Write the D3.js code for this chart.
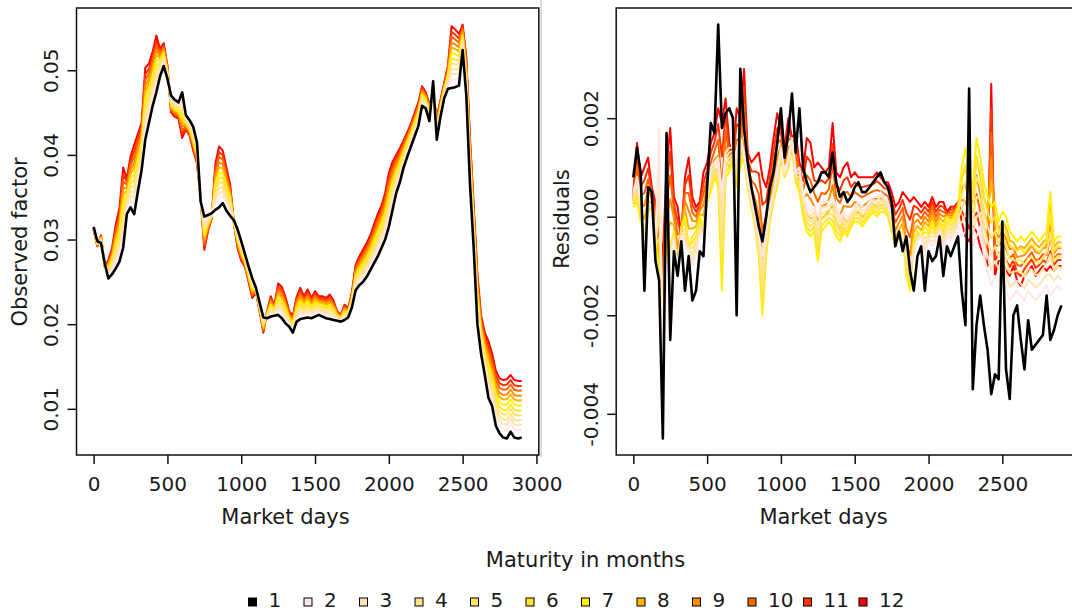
<!DOCTYPE html>
<html>
<head>
<meta charset="utf-8">
<script src="https://cdn.jsdelivr.net/npm/d3@7"></script>
<style>
  body { margin: 0; background: #fff; }
  svg { display: block; font-family: "DejaVu Sans", sans-serif; }
</style>
</head>
<body>
<svg id="chart"></svg>
<script>
// market days are sampled every 25 days, 0 .. 2900
const dayStep = 25;

const maturities = [1, 2, 3, 4, 5, 6, 7, 8, 9, 10, 11, 12];
const maturityColors = ["#000000", "#fde8e8", "#ffe2b0", "#ffe48c", "#ffe566", "#ffe430",
  "#fff000", "#ffb300", "#ff8c00", "#ff6200", "#ff3300", "#ff0000"];

// observed factor, maturity 1 (black, lowest line)
const factorM1 = [
  0.0315, 0.0298, 0.0296, 0.0272, 0.0254, 0.0259, 0.0266, 0.0274, 0.0290, 0.0330,
  0.0338, 0.0330, 0.0357, 0.0382, 0.0418, 0.0438, 0.0458, 0.0474, 0.0493, 0.0505,
  0.0490, 0.0470, 0.0465, 0.0462, 0.0474, 0.0447, 0.0441, 0.0433, 0.0415, 0.0345,
  0.0327, 0.0329, 0.0331, 0.0335, 0.0338, 0.0343, 0.0334, 0.0328, 0.0323, 0.0312,
  0.0298, 0.0283, 0.0268, 0.0254, 0.0243, 0.0225, 0.0208, 0.0207, 0.0209, 0.0210,
  0.0211, 0.0207, 0.0201, 0.0197, 0.0190, 0.0203, 0.0206, 0.0207, 0.0208, 0.0207,
  0.0209, 0.0211, 0.0209, 0.0207, 0.0206, 0.0205, 0.0204, 0.0203, 0.0205, 0.0208,
  0.0220, 0.0240, 0.0246, 0.0250, 0.0256, 0.0264, 0.0272, 0.0280, 0.0290, 0.0300,
  0.0315, 0.0335, 0.0355, 0.0368, 0.0385, 0.0398, 0.0410, 0.0422, 0.0434, 0.0458,
  0.0455, 0.0440, 0.0487, 0.0418, 0.0445, 0.0467, 0.0478, 0.0479, 0.0480, 0.0482,
  0.0524, 0.0470, 0.0365, 0.0290, 0.0200, 0.0165, 0.0140, 0.0113, 0.0103, 0.0080,
  0.0071, 0.0066, 0.0065, 0.0073, 0.0066, 0.0065, 0.0066
];
// observed factor, maturity 12 (red, top of the band)
const factorM12 = [
  0.0312, 0.0292, 0.0305, 0.0268, 0.0276, 0.0290, 0.0318, 0.0337, 0.0385, 0.0372,
  0.0398, 0.0412, 0.0425, 0.0438, 0.0503, 0.0508, 0.0522, 0.0541, 0.0525, 0.0532,
  0.0505, 0.0450, 0.0445, 0.0443, 0.0420, 0.0430, 0.0423, 0.0405, 0.0390, 0.0350,
  0.0288, 0.0310, 0.0325, 0.0390, 0.0410, 0.0405, 0.0385, 0.0365, 0.0320, 0.0290,
  0.0275, 0.0268, 0.0250, 0.0231, 0.0238, 0.0215, 0.0190, 0.0215, 0.0233, 0.0222,
  0.0248, 0.0244, 0.0232, 0.0215, 0.0210, 0.0232, 0.0243, 0.0233, 0.0241, 0.0231,
  0.0239, 0.0233, 0.0233, 0.0231, 0.0235, 0.0228, 0.0215, 0.0211, 0.0223, 0.0219,
  0.0238, 0.0270, 0.0280, 0.0288, 0.0296, 0.0305, 0.0318, 0.0330, 0.0340, 0.0355,
  0.0378, 0.0392, 0.0400, 0.0408, 0.0417, 0.0427, 0.0437, 0.0450, 0.0462, 0.0481,
  0.0474, 0.0460, 0.0469, 0.0445, 0.0465, 0.0485, 0.0505, 0.0552, 0.0548, 0.0543,
  0.0554, 0.0515, 0.0420, 0.0340, 0.0260, 0.0210, 0.0190, 0.0180, 0.0165, 0.0145,
  0.0136, 0.0134, 0.0135, 0.0140, 0.0134, 0.0133, 0.0133
];
// where each maturity sits between maturity 1 and 12 (read at the right end)
const factorShare = [0, 0.14, 0.23, 0.31, 0.40, 0.48, 0.57, 0.66, 0.74, 0.83, 0.91, 1];

// residuals, maturity 1 (black)
const residM1 = [
  0.0008, 0.0014, 0.0009, -0.0015, 0.0006, 0.0005, -0.0009, -0.0013, -0.0045, 0.0017,
  -0.0025, -0.0007, -0.0012, -0.0005, -0.0015, -0.0008, -0.0017, -0.0015, -0.0007, -0.0008,
  0.0006, 0.0019, 0.0017, 0.0039, 0.0018, 0.0021, 0.0022, 0.0020, -0.0020, 0.0030,
  0.0018, 0.0011, 0.0006, 0.0002, -0.0002, -0.0005, 0.0000, 0.0006, 0.0009, 0.0015,
  0.0022, 0.0012, 0.0017, 0.0025, 0.0013, 0.0022, 0.0010, 0.0007, 0.0005, 0.0006,
  0.0007, 0.0009, 0.0009, 0.0008, 0.0013, 0.0007, 0.0004, 0.0005, 0.0003, 0.0004,
  0.0006, 0.0007, 0.0005, 0.0005, 0.0006, 0.0007, 0.0008, 0.0009, 0.0007, 0.0006,
  0.0003, -0.0006, -0.0003, -0.0007, -0.0004, -0.0011, -0.0015, -0.0008, -0.0006, -0.0015,
  -0.0007, -0.0009, -0.0008, -0.0004, -0.0012, -0.0006, -0.0008, -0.0006, -0.0004, -0.0015,
  -0.0022, 0.0026, -0.0035, -0.0022, -0.0016, -0.0022, -0.0027, -0.0036, -0.0032, -0.0033,
  -0.0001, -0.0031, -0.0037, -0.0020, -0.0018, -0.0025, -0.0031, -0.0021, -0.0027, -0.0026,
  -0.0025, -0.0024, -0.0016, -0.0025, -0.0023, -0.0020, -0.0018
];
// residuals, maturity 2 (pale pink)
const residM2 = [
  0.0005, 0.0008, 0.0004, -0.0008, 0.0003, 0.0002, -0.0005, 0.0018, -0.0030, -0.0010,
  -0.0008, -0.0005, -0.0010, -0.0004, -0.0006, -0.0007, -0.0010, -0.0008, -0.0004, -0.0004,
  0.0004, 0.0010, 0.0011, 0.0012, 0.0005, 0.0013, 0.0014, 0.0014, 0.0012, 0.0016,
  0.0013, 0.0008, 0.0004, 0.0000, -0.0004, -0.0008, -0.0003, 0.0002, 0.0005, 0.0009,
  0.0014, 0.0009, 0.0012, 0.0016, 0.0009, 0.0010, 0.0005, 0.0002, 0.0001, 0.0002,
  0.0000, 0.0003, 0.0003, 0.0003, 0.0004, 0.0002, 0.0000, 0.0001, 0.0000, 0.0001,
  0.0002, 0.0003, 0.0002, 0.0002, 0.0003, 0.0004, 0.0004, 0.0005, 0.0004, 0.0003,
  0.0000, -0.0005, -0.0003, -0.0004, -0.0006, -0.0009, -0.0008, -0.0005, -0.0004, -0.0008,
  -0.0005, -0.0006, -0.0005, -0.0003, -0.0007, -0.0004, -0.0005, -0.0004, -0.0002, -0.0004,
  -0.0003, 0.0002, -0.0006, -0.0004, -0.0002, -0.0008, -0.0011, -0.0014, -0.0012, -0.0013,
  -0.0010, -0.0015, -0.0017, -0.0016, -0.0015, -0.0016, -0.0017, -0.0015, -0.0016, -0.0017,
  -0.0016, -0.0015, -0.0014, -0.0016, -0.0015, -0.0014, -0.0015
];
// residuals, maturity 7 (yellow)
const residM7 = [
  0.0002, 0.0003, -0.0001, -0.0003, 0.0001, 0.0002, -0.0006, -0.0010, -0.0024, -0.0008,
  -0.0006, -0.0003, -0.0012, -0.0002, 0.0000, -0.0006, -0.0004, -0.0003, 0.0000, -0.0002,
  0.0003, 0.0005, 0.0008, 0.0006, -0.0015, 0.0008, 0.0009, 0.0011, 0.0006, 0.0010,
  0.0012, 0.0006, 0.0002, -0.0002, -0.0008, -0.0020, -0.0008, -0.0001, 0.0003, 0.0006,
  0.0012, 0.0008, 0.0010, 0.0014, 0.0007, 0.0005, 0.0000, -0.0003, -0.0004, -0.0003,
  -0.0009, -0.0003, -0.0002, -0.0001, -0.0002, -0.0004, -0.0005, -0.0003, -0.0004, -0.0002,
  -0.0001, -0.0001, -0.0002, -0.0001, 0.0000, 0.0001, 0.0000, 0.0001, 0.0001, 0.0000,
  -0.0003, -0.0006, -0.0004, -0.0003, -0.0012, -0.0015, -0.0005, -0.0003, -0.0004, -0.0002,
  -0.0003, -0.0001, -0.0003, -0.0001, -0.0002, 0.0000, -0.0001, 0.0000, 0.0002, 0.0010,
  0.0014, 0.0008, 0.0006, 0.0016, 0.0012, 0.0007, 0.0004, 0.0002, 0.0003, -0.0001,
  0.0001, 0.0000, -0.0003, -0.0004, -0.0005, -0.0004, -0.0005, -0.0004, -0.0003, -0.0004,
  -0.0005, -0.0004, -0.0003, 0.0005, -0.0005, -0.0004, -0.0004
];
// residuals, maturity 12 (red)
const residM12 = [
  0.0005, 0.0015, 0.0008, 0.0010, 0.0012, 0.0006, 0.0003, -0.0002, -0.0008, 0.0010,
  0.0018, 0.0004, 0.0002, -0.0004, 0.0008, 0.0012, 0.0004, 0.0002, 0.0003, 0.0009,
  0.0011, 0.0015, 0.0017, 0.0022, 0.0019, 0.0024, 0.0015, 0.0012, 0.0022, 0.0020,
  0.0030, 0.0013, 0.0011, 0.0012, 0.0013, 0.0008, 0.0006, 0.0010, 0.0016, 0.0021,
  0.0018, 0.0014, 0.0020, 0.0016, 0.0017, 0.0011, 0.0009, 0.0016, 0.0015, 0.0010,
  0.0011, 0.0010, 0.0009, 0.0010, 0.0019, 0.0009, 0.0008, 0.0010, 0.0011, 0.0008,
  0.0009, 0.0008, 0.0008, 0.0008, 0.0008, 0.0008, 0.0009, 0.0008, 0.0007, 0.0007,
  0.0005, 0.0002, 0.0003, 0.0005, 0.0004, 0.0003, 0.0004, 0.0003, 0.0002, 0.0003,
  0.0002, 0.0004, 0.0002, 0.0003, 0.0003, 0.0001, 0.0002, 0.0002, 0.0003, -0.0001,
  -0.0004, -0.0005, -0.0002, -0.0003, -0.0006, -0.0008, -0.0010, 0.0027, -0.0012, -0.0009,
  -0.0009, -0.0011, -0.0012, -0.0010, -0.0013, -0.0014, -0.0012, -0.0011, -0.0010, -0.0012,
  -0.0011, -0.0010, -0.0011, -0.0010, -0.0011, -0.0010, -0.0010
];
// position of each maturity along 2 -> 7 -> 12 (0 = maturity 2, 1 = 7, 2 = 12)
const residPosition = [null, 0, 0.2, 0.4, 0.6, 0.8, 1, 1.2, 1.4, 1.6, 1.8, 2];

const factorTicks = [0.01, 0.02, 0.03, 0.04, 0.05];
const residTicks = [-0.004, -0.002, 0, 0.002];
const leftDayTicks = [0, 500, 1000, 1500, 2000, 2500, 3000];
const rightDayTicks = [0, 500, 1000, 1500, 2000, 2500];

const width = 1072;
const height = 616;
const tickFont = 20;
const titleFont = 21;

const svg = d3.select("#chart")
  .attr("width", width)
  .attr("height", height);
svg.append("rect").attr("width", width).attr("height", height).attr("fill", "#fff");

const days = factorM1.map((d, i) => i * dayStep);

// R style range: data extent padded by 4% on each side
function padded(values) {
  const [lo, hi] = d3.extent(values);
  const pad = 0.04 * (hi - lo);
  return [lo - pad, hi + pad];
}

const factorSeries = maturities.map((m, k) => ({
  maturity: m,
  values: factorM1.map((v, i) => v + factorShare[k] * (factorM12[i] - v)),
}));

const residSeries = maturities.map((m, k) => {
  if (k === 0) return { maturity: m, values: residM1 };
  const p = residPosition[k];
  const [a, b, t] = p <= 1 ? [residM2, residM7, p] : [residM7, residM12, p - 1];
  return { maturity: m, values: a.map((v, i) => v + t * (b[i] - v)) };
});

function drawPanel(o) {
  const g = svg.append("g");
  const x = d3.scaleLinear().domain(padded(days)).range([o.left, o.right]);
  const y = d3.scaleLinear()
    .domain(padded(o.series.flatMap((s) => s.values)))
    .range([o.bottom, o.top]);

  const line = d3.line()
    .x((d, i) => x(days[i]))
    .y((d) => y(d));

  // maturity 12 first, black maturity 1 last so it sits on top
  g.selectAll("path.series")
    .data(o.series.slice().reverse())
    .join("path")
    .attr("class", "series")
    .attr("d", (d) => line(d.values))
    .attr("fill", "none")
    .attr("stroke", (d) => maturityColors[d.maturity - 1])
    .attr("stroke-width", (d) => (d.maturity === 1 ? 2.6 : 2))
    .attr("stroke-linejoin", "round");

  // box
  g.append("rect")
    .attr("x", o.left)
    .attr("y", o.top)
    .attr("width", o.right - o.left)
    .attr("height", o.bottom - o.top)
    .attr("fill", "none")
    .attr("stroke", "#111")
    .attr("stroke-width", 1.5);

  const xAxis = g.append("g")
    .attr("transform", `translate(0, ${o.bottom})`)
    .call(d3.axisBottom(x).tickValues(o.xTicks).tickSize(9).tickSizeOuter(0).tickPadding(13)
      .tickFormat(d3.format("d")));
  const yAxis = g.append("g")
    .attr("transform", `translate(${o.left}, 0)`)
    .call(d3.axisLeft(y).tickValues(o.yTicks).tickSize(9).tickSizeOuter(0).tickFormat(o.yFormat));

  [xAxis, yAxis].forEach((a) => {
    a.attr("font-size", tickFont).attr("font-family", "DejaVu Sans, sans-serif");
    a.selectAll("path, line").attr("stroke", "#111").attr("stroke-width", 1.5);
    a.selectAll("text").attr("fill", "#1a1a1a");
  });
  xAxis.select(".domain").remove();
  yAxis.select(".domain").remove();

  // y tick labels run along the axis
  yAxis.selectAll(".tick text")
    .attr("x", null)
    .attr("dy", null)
    .attr("text-anchor", "middle")
    .attr("transform", "translate(-18.5, 0) rotate(-90)");

  g.append("text")
    .attr("transform", `translate(${o.yTitleX}, ${o.yTitleY}) rotate(-90)`)
    .attr("text-anchor", "middle")
    .attr("font-size", titleFont)
    .attr("fill", "#1a1a1a")
    .text(o.yTitle);

  g.append("text")
    .attr("x", o.xTitleX)
    .attr("y", 524)
    .attr("text-anchor", "middle")
    .attr("font-size", titleFont)
    .attr("fill", "#1a1a1a")
    .text("Market days");
}

drawPanel({
  series: factorSeries,
  left: 76.5, right: 538.8, top: 8, bottom: 455,
  xTicks: leftDayTicks,
  yTicks: factorTicks,
  yFormat: d3.format(".2f"),
  yTitle: "Observed factor", yTitleX: 27, yTitleY: 242,
  xTitleX: 285.5,
});

// thin grey seam between the two plots
svg.append("line")
  .attr("x1", 541).attr("x2", 541)
  .attr("y1", 0).attr("y2", 457)
  .attr("stroke", "#cfcfcf")
  .attr("stroke-width", 1.5);

drawPanel({
  series: residSeries,
  left: 616.2, right: 1078.5, top: 8, bottom: 455,
  xTicks: rightDayTicks,
  yTicks: residTicks,
  yFormat: (d) => d3.format(".3f")(d).replace("\u2212", "-"),
  yTitle: "Residuals", yTitleX: 569, yTitleY: 219,
  xTitleX: 823.6,
});

// legend
svg.append("text")
  .attr("x", 585.5)
  .attr("y", 567)
  .attr("text-anchor", "middle")
  .attr("font-size", titleFont)
  .attr("fill", "#1a1a1a")
  .text("Maturity in months");

const legendX = d3.scaleLinear().domain([1, 12]).range([252.5, 863]);
const items = svg.append("g")
  .selectAll("g")
  .data(maturities)
  .join("g")
  .attr("transform", (d) => `translate(${legendX(d)}, 602)`);

items.append("rect")
  .attr("x", -4).attr("y", -4)
  .attr("width", 8).attr("height", 8)
  .attr("fill", (d) => maturityColors[d - 1])
  .attr("stroke", "#000")
  .attr("stroke-width", 1);

items.append("text")
  .attr("x", 16)
  .attr("y", 5)
  .attr("font-size", tickFont)
  .attr("fill", "#1a1a1a")
  .text((d) => d);
</script>
</body>
</html>
